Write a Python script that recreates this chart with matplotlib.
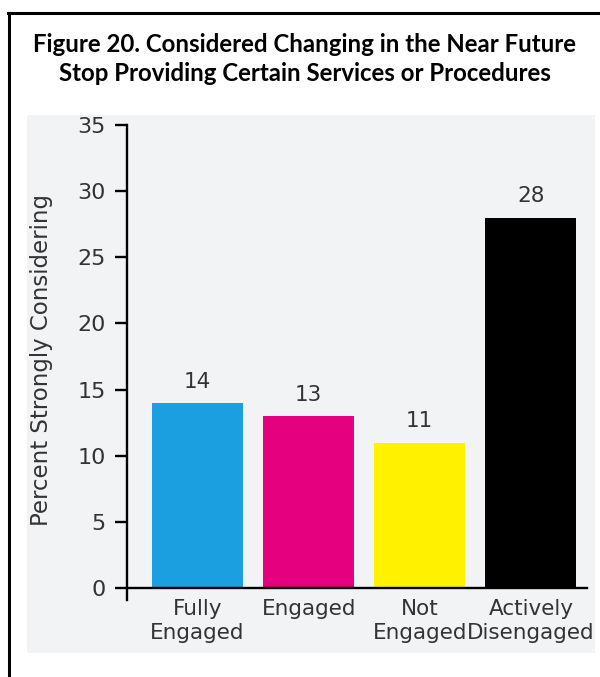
import matplotlib.pyplot as plt
from matplotlib.patches import Rectangle
from matplotlib.lines import Line2D

categories = ["Fully\nEngaged", "Engaged", "Not\nEngaged", "Actively\nDisengaged"]
values = [14, 13, 11, 28]
colors = ["#1b9fe0", "#e4007f", "#fff100", "#000000"]
yticks = [0, 5, 10, 15, 20, 25, 30, 35]

plt.rcParams["font.family"] = ["DejaVu Sans"]
text_color = "#333333"

fig = plt.figure(figsize=(6.0, 6.77), dpi=100)
fig.patch.set_facecolor("white")

# light panel behind the chart
fig.patches.append(Rectangle((0.045, 0.0355), 0.947, 0.7945, transform=fig.transFigure,
                             facecolor="#f1f3f5", edgecolor="none", zorder=-1))
# frame lines at left and top
fig.lines.append(Line2D([0.015, 0.015], [0.0, 0.981], transform=fig.transFigure,
                        color="black", linewidth=2.2))
fig.lines.append(Line2D([0.014, 1.0], [0.981, 0.981], transform=fig.transFigure,
                        color="black", linewidth=2.2))

fig.text(0.508, 0.913, "Figure 20. Considered Changing in the Near Future\n"
         "Stop Providing Certain Services or Procedures",
         ha="center", va="center", fontsize=17.3, fontweight="bold",
         family=["Lato", "DejaVu Sans"], color="black", linespacing=1.3)

ax = fig.add_axes([0.2117, 0.1137, 0.7666, 0.7017], zorder=2)
ax.set_facecolor("none")

x = list(range(len(categories)))
ax.bar(x, values, width=0.82, color=colors, zorder=2)
for xi, v in zip(x, values):
    ax.annotate(str(v), (xi, v), xytext=(0, 8), textcoords="offset points",
                ha="center", va="bottom", fontsize=15.5, color=text_color)

ax.set_xlim(-0.635, 3.505)
ax.set_ylim(-0.9, 35)
ax.set_yticks(yticks)
ax.set_xticks(x)

for side in ("top", "right"):
    ax.spines[side].set_visible(False)
ax.spines["bottom"].set_position(("data", 0))
ax.spines["left"].set_linewidth(1.7)
ax.spines["bottom"].set_linewidth(1.7)

ax.tick_params(axis="y", length=8.5, width=1.7, pad=7, labelsize=16, labelcolor=text_color)
ax.tick_params(axis="x", length=0, pad=8, labelsize=15.5, labelcolor=text_color)
ax.set_xticklabels(categories, linespacing=1.25)

ax.set_ylabel("Percent Strongly Considering", fontsize=16.5, color=text_color)
ax.yaxis.set_label_coords(-0.16, 0.505)

fig.savefig("out.png", dpi=100)
